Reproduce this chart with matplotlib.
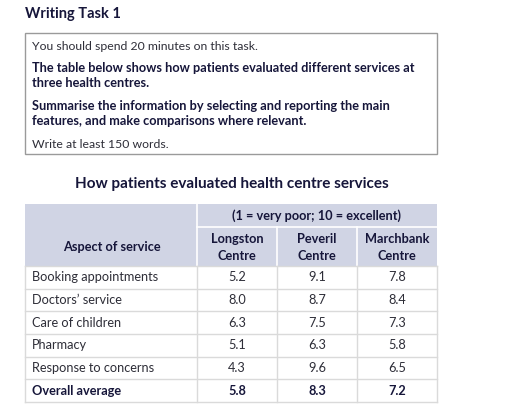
import matplotlib
matplotlib.use("Agg")
import matplotlib.pyplot as plt
from matplotlib.patches import Rectangle
from matplotlib.textpath import TextPath
from matplotlib.font_manager import FontProperties

# ---- data ----
aspects = ["Booking appointments", "Doctors\u2019 service", "Care of children",
           "Pharmacy", "Response to concerns", "Overall average"]
centres = [("Longston", "Centre"), ("Peveril", "Centre"), ("Marchbank", "Centre")]
longston = [5.2, 8.0, 6.3, 5.1, 4.3, 5.8]
peveril = [9.1, 8.7, 7.5, 6.3, 9.6, 8.3]
marchbank = [7.8, 8.4, 7.3, 5.8, 6.5, 7.2]
values = [longston, peveril, marchbank]

task_title = "Writing Task 1"
task_lines = [
    ("You should spend 20 minutes on this task.", "normal"),
    ("The table below shows how patients evaluated different services at", "bold"),
    ("three health centres.", "bold"),
    ("Summarise the information by selecting and reporting the main", "bold"),
    ("features, and make comparisons where relevant.", "bold"),
    ("Write at least 150 words.", "normal"),
]
chart_title = "How patients evaluated health centre services"
scale_note = "(1 = very poor; 10 = excellent)"
row_header = "Aspect of service"

# ---- style ----
FONT = "Lato"
NAVY = "#16163a"
TEXT = "#2e2e38"
HEAD = "#d0d4e4"
GRID = "#dadada"

plt.rcParams["font.family"] = [FONT, "DejaVu Sans"]


def size_for(text, weight, target_px):
    """font size (pt) that gives the text the wanted pixel width at 100 dpi"""
    fp = FontProperties(family=FONT, weight=weight, size=10)
    w = TextPath((0, 0), text, prop=fp).get_extents().width
    return 10 * target_px / (w * 100 / 72)


REG = size_for("You should spend 20 minutes on this task.", "normal", 226)
BOLD = size_for("The table below shows how patients evaluated different services at", "bold", 383)
TBL = size_for("Booking appointments", "normal", 125)
H1 = size_for(task_title, "bold", 95)
H2 = size_for(chart_title, "bold", 311)

fig = plt.figure(figsize=(5.12, 4.11), dpi=100)
ax = fig.add_axes([0, 0, 1, 1])
ax.set_xlim(0, 512)
ax.set_ylim(411, 0)
ax.axis("off")

# Task heading and box
ax.text(25, 14, task_title, fontsize=H1, fontweight="bold", color=NAVY, va="center", ha="left")
ax.add_patch(Rectangle((25, 33), 412, 121, fill=False, ec="#9a9a9a", lw=1.0))
line_y = [46, 68, 83, 106, 121, 144]
for (txt, w), y in zip(task_lines, line_y):
    ax.text(32, y, txt, fontsize=BOLD if w == "bold" else REG, fontweight=w,
            color=NAVY if w == "bold" else TEXT, va="center", ha="left")

# Chart title
ax.text(231.5, 184, chart_title, fontsize=H2, fontweight="bold", color=NAVY, va="center", ha="center")

# Table geometry
col_edges = [25, 197, 277, 357, 437]
top, sub, head_bot = 203.5, 227, 266
row_h = (402 - head_bot) / len(aspects)

# header band
ax.add_patch(Rectangle((col_edges[0], top), col_edges[-1] - col_edges[0], head_bot - top,
                       fc=HEAD, ec="none"))
ax.plot([col_edges[1], col_edges[1]], [top, head_bot], color="white", lw=1.2)
ax.plot([col_edges[1], col_edges[-1]], [sub, sub], color="white", lw=1.2)
for x in col_edges[2:4]:
    ax.plot([x, x], [sub, head_bot], color="white", lw=1.2)

ax.text((col_edges[0] + col_edges[1]) / 2 + 1, 247, row_header,
        fontsize=BOLD, fontweight="bold", color=NAVY, ha="center", va="center")
ax.text((col_edges[1] + col_edges[-1]) / 2, 215.5, scale_note,
        fontsize=BOLD, fontweight="bold", color=NAVY, ha="center", va="center")
for j, (l1, l2) in enumerate(centres):
    xc = (col_edges[j + 1] + col_edges[j + 2]) / 2
    ax.text(xc, 239, l1, fontsize=BOLD, fontweight="bold", color=NAVY, ha="center", va="center")
    ax.text(xc, 256, l2, fontsize=BOLD, fontweight="bold", color=NAVY, ha="center", va="center")

# body
body_bot = head_bot + row_h * len(aspects)
for i in range(len(aspects) + 1):
    y = head_bot + i * row_h
    ax.plot([col_edges[0], col_edges[-1]], [y, y], color=GRID, lw=1.0)
for x in col_edges:
    ax.plot([x, x], [head_bot, body_bot], color=GRID, lw=1.0)

for i, name in enumerate(aspects):
    yc = head_bot + (i + 0.5) * row_h
    last = i == len(aspects) - 1
    w = "bold" if last else "normal"
    col = NAVY if last else TEXT
    fs = BOLD if last else TBL
    ax.text(32, yc, name, fontsize=fs, fontweight=w, color=col, ha="left", va="center")
    for j, series in enumerate(values):
        ax.text((col_edges[j + 1] + col_edges[j + 2]) / 2, yc, f"{series[i]:.1f}",
                fontsize=fs, fontweight=w, color=col, ha="center", va="center")

fig.savefig("out.png", dpi=100, facecolor="white")
